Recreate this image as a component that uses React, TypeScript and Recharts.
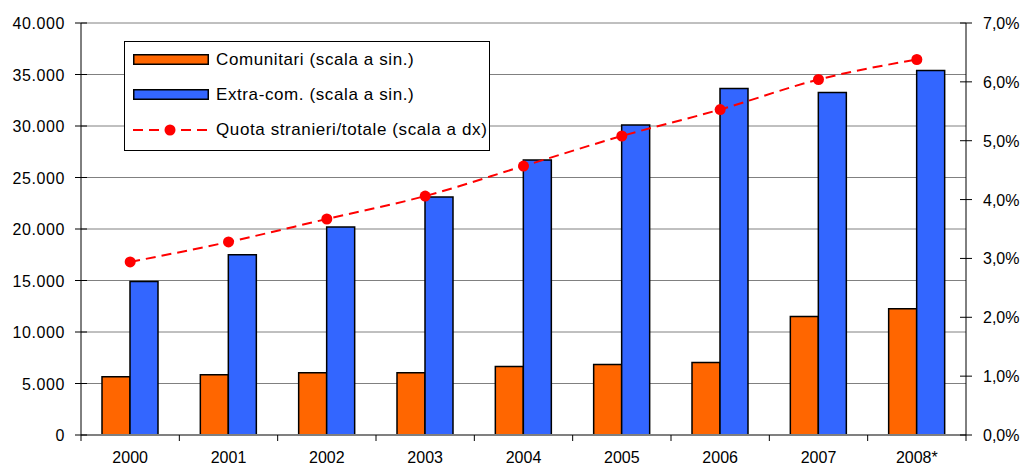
import React from "react";
import {
  ComposedChart,
  Bar,
  Line,
  XAxis,
  YAxis,
  CartesianGrid,
  Legend,
} from "recharts";

const years = ["2000", "2001", "2002", "2003", "2004", "2005", "2006", "2007", "2008*"];
const comunitari = [5650, 5850, 6050, 6050, 6650, 6850, 7050, 11500, 12250];
const extraCom = [14900, 17500, 20200, 23100, 26700, 30100, 33650, 33250, 35400];
const quota = [2.94, 3.28, 3.67, 4.06, 4.57, 5.08, 5.53, 6.04, 6.38];
const leftTicks = [0, 5000, 10000, 15000, 20000, 25000, 30000, 35000, 40000];
const rightTicks = [0, 1, 2, 3, 4, 5, 6, 7];

const seriesNames = {
  com: "Comunitari (scala a sin.)",
  ext: "Extra-com. (scala a sin.)",
  quota: "Quota stranieri/totale (scala a dx)",
};

const data = years.map((y, i) => ({
  year: y,
  com: comunitari[i],
  ext: extraCom[i],
  quota: quota[i],
}));

const W = 1026;
const H = 467;
const LEFT_W = 81;
const RIGHT_W = 60;
const TOP = 23;
const XAXIS_H = 32;
const PLOT_W = W - LEFT_W - RIGHT_W;
const BAND = PLOT_W / years.length;
const FONT = "'Liberation Sans', Arial, sans-serif";
const TS = 6;
const TM = 2;

const fmtLeft = (v: number) => {
  if (v === 0) return "0";
  const s = String(v);
  return s.slice(0, s.length - 3) + "." + s.slice(s.length - 3);
};
const fmtRight = (v: number) => v.toFixed(1).replace(".", ",") + "%";

const XTick = (props: any) => {
  const { x, y, payload, index } = props;
  const axisY = y - TS - TM;
  const last = index === years.length - 1;
  return (
    <g>
      <line x1={x - BAND / 2} x2={x - BAND / 2} y1={axisY} y2={axisY + 6} stroke="#000" strokeWidth={1} />
      {last && (
        <line x1={x + BAND / 2} x2={x + BAND / 2} y1={axisY} y2={axisY + 6} stroke="#000" strokeWidth={1} />
      )}
      <text x={x} y={axisY + 28} textAnchor="middle" fontSize={16} fontFamily={FONT} fill="#000">
        {payload.value}
      </text>
    </g>
  );
};

const LeftTick = (props: any) => {
  const { x, y, payload } = props;
  const axisX = x + TS + TM;
  return (
    <g>
      <line x1={axisX - 6} x2={axisX + 6} y1={y} y2={y} stroke="#000" strokeWidth={1} />
      <text x={axisX - 16} y={y + 6} textAnchor="end" fontSize={16} fontFamily={FONT} fill="#000" letterSpacing={0.6}>
        {fmtLeft(payload.value)}
      </text>
    </g>
  );
};

const RightTick = (props: any) => {
  const { x, y, payload } = props;
  const axisX = x - TS - TM;
  return (
    <g>
      <line x1={axisX - 6} x2={axisX + 6} y1={y} y2={y} stroke="#000" strokeWidth={1} />
      <text x={axisX + 17} y={y + 6} textAnchor="start" fontSize={16} fontFamily={FONT} fill="#000">
        {fmtRight(payload.value)}
      </text>
    </g>
  );
};

const LegendContent = () => {
  const row: React.CSSProperties = {
    display: "flex",
    alignItems: "center",
    height: 35,
  };
  const txt: React.CSSProperties = {
    fontFamily: FONT,
    fontSize: 17,
    letterSpacing: 0.6,
    color: "#000",
    marginLeft: 7,
    whiteSpace: "nowrap",
  };
  return (
    <div
      style={{
        boxSizing: "border-box",
        width: 366,
        height: 110,
        border: "1px solid #000",
        background: "#fff",
        paddingLeft: 8,
        paddingTop: 0,
      }}
    >
      <div style={row}>
        <svg width={76} height={12}>
          <rect x={0.75} y={0.75} width={74.5} height={9.5} fill="#FF6600" stroke="#000" strokeWidth={1.5} />
        </svg>
        <span style={txt}>{seriesNames.com}</span>
      </div>
      <div style={row}>
        <svg width={76} height={12}>
          <rect x={0.75} y={0.75} width={74.5} height={9.5} fill="#3366FF" stroke="#000" strokeWidth={1.5} />
        </svg>
        <span style={txt}>{seriesNames.ext}</span>
      </div>
      <div style={row}>
        <svg width={78} height={12}>
          <line x1={0} x2={78} y1={6} y2={6} stroke="#FF0000" strokeWidth={2} strokeDasharray="10 6" />
          <circle cx={37} cy={6} r={5.5} fill="#FF0000" />
        </svg>
        <span style={{ ...txt, marginLeft: 5 }}>{seriesNames.quota}</span>
      </div>
    </div>
  );
};

export default function App() {
  return (
    <div style={{ position: "absolute", left: 0, top: 0, width: W, height: H, background: "#fff" }}>
      <ComposedChart
        width={W}
        height={H}
        data={data}
        margin={{ top: TOP, right: 0, left: 0, bottom: 0 }}
        barGap={0}
      >
        <CartesianGrid yAxisId="left" vertical={false} horizontal stroke="#808080" strokeWidth={1} />
        <XAxis
          dataKey="year"
          height={XAXIS_H}
          tickLine={false}
          tickSize={TS}
          tickMargin={TM}
          axisLine={{ stroke: "#808080", strokeWidth: 2 }}
          tick={<XTick />}
          interval={0}
        />
        <YAxis
          yAxisId="left"
          orientation="left"
          width={LEFT_W}
          domain={[0, 40000]}
          ticks={leftTicks}
          tickLine={false}
          tickSize={TS}
          tickMargin={TM}
          axisLine={{ stroke: "#000", strokeWidth: 1 }}
          tick={<LeftTick />}
          interval={0}
          allowDataOverflow
        />
        <YAxis
          yAxisId="right"
          orientation="right"
          width={RIGHT_W}
          domain={[0, 7]}
          ticks={rightTicks}
          tickLine={false}
          tickSize={TS}
          tickMargin={TM}
          axisLine={{ stroke: "#000", strokeWidth: 1 }}
          tick={<RightTick />}
          interval={0}
          allowDataOverflow
        />
        <Legend
          layout="vertical"
          align="center"
          verticalAlign="middle"
          content={<LegendContent />}
          wrapperStyle={{ left: 124, top: 41, width: 366, height: 110, right: "auto", bottom: "auto" }}
        />
        <Bar
          yAxisId="left"
          dataKey="com"
          name={seriesNames.com}
          fill="#FF6600"
          stroke="#000"
          strokeWidth={1.5}
          barSize={28}
          isAnimationActive={false}
        />
        <Bar
          yAxisId="left"
          dataKey="ext"
          name={seriesNames.ext}
          fill="#3366FF"
          stroke="#000"
          strokeWidth={1.5}
          barSize={28}
          isAnimationActive={false}
        />
        <Line
          yAxisId="right"
          type="monotone"
          dataKey="quota"
          name={seriesNames.quota}
          stroke="#FF0000"
          strokeWidth={2}
          strokeDasharray="10 6"
          dot={{ r: 5.5, fill: "#FF0000", stroke: "none" }}
          activeDot={false}
          isAnimationActive={false}
        />
      </ComposedChart>
    </div>
  );
}
